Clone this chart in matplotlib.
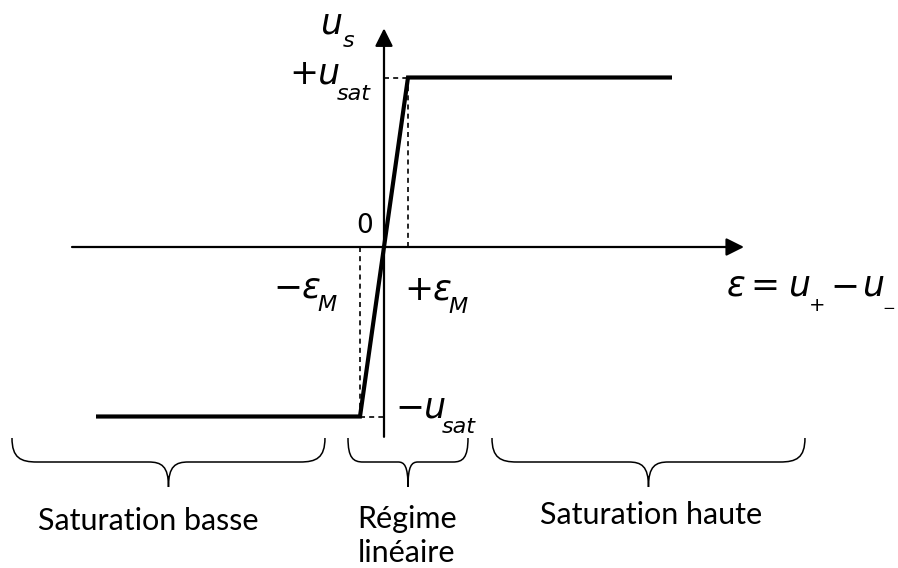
import matplotlib
matplotlib.use("Agg")
import matplotlib.pyplot as plt
from matplotlib.path import Path
from matplotlib.patches import PathPatch

# characteristic of the op-amp (units of eps_M and u_sat)
curve_eps = [-12.0, -1.0, 1.0, 12.0]
curve_us = [-1.0, -1.0, 1.0, 1.0]
eps_M = 1.0
u_sat = 1.0
x_axis = (-13.0, 15.0)
y_axis = (-1.12, 1.29)

# the three regions under the curve
region_names = ["Saturation basse", "Régime\nlinéaire", "Saturation haute"]
region_bounds = [(-15.5, -2.46), (-1.5, 3.5), (4.5, 17.54)]

# pixel layout of the drawing (origin and scale)
X0, Y0 = 384.0, 247.0
SX, SY = 24.0, 169.5


def P(px, py):
    return (px - X0) / SX, (Y0 - py) / SY


def xpix(x):
    return X0 + x * SX


fig = plt.figure(figsize=(8.98, 5.68), dpi=100)
ax = fig.add_axes([0, 0, 1, 1])
ax.set_xlim(P(0, 0)[0], P(898, 0)[0])
ax.set_ylim(P(0, 568)[1], P(0, 0)[1])
ax.axis("off")

# axes with arrows
arr = dict(arrowstyle="-|>,head_length=0.54,head_width=0.27", lw=1.6,
           color="black", mutation_scale=20, shrinkA=0, shrinkB=0)
ax.annotate("", xy=(x_axis[1], 0), xytext=(x_axis[0], 0), arrowprops=arr)
ax.annotate("", xy=(0, y_axis[1]), xytext=(0, y_axis[0]), arrowprops=arr)

# dashed guides
dash = dict(color="black", lw=1.2, ls=(0, (3, 2.5)))
ax.plot([0, eps_M], [u_sat, u_sat], **dash)
ax.plot([eps_M, eps_M], [0, u_sat], **dash)
ax.plot([-eps_M, -eps_M], [0, -u_sat], **dash)
ax.plot([-eps_M, 0], [-u_sat, -u_sat], **dash)

# the characteristic
ax.plot(curve_eps, curve_us, color="black", lw=3.0, solid_joinstyle="miter",
        solid_capstyle="butt")


def put(s, px, py, size, style="italic", ha="center", family="DejaVu Sans"):
    x, y = P(px, py)
    ax.text(x, y, s, fontsize=size, style=style, ha=ha, va="baseline",
            family=family)


big, small = 25, 16
# u_s
put("u", 331, 33, big)
put("s", 349, 47, small)
# +u_sat
put("+u", 315, 83, big)
put("sat", 354, 100, small)
# 0
put("0", 365, 233, 19, "normal")
# -eps_M
put("\u2212\u03b5", 297, 298, big)
put("M", 327, 311, small)
# +eps_M
put("+\u03b5", 428, 300, big)
put("M", 458, 313, small)
# eps = u+ - u-
put("\u03b5", 736, 296, big)
put("=", 765, 296, big, "normal")
put("u", 799, 296, big)
put("+", 817, 311, small - 2, "normal")
put("\u2212", 845, 296, big, "normal")
put("u", 873, 296, big)
put("\u2212", 889, 313, small - 5, "normal")
# -u_sat
put("\u2212u", 421, 417, big)
put("sat", 459, 433, small)


def brace(x0, x1, r, rm, ytop=438, ymid=462, ytip=487):
    xc = (x0 + x1) / 2
    pts = [(x0, ytop),
           (x0, ymid - 4), (x0 + 0.35 * r, ymid), (x0 + r, ymid),
           (xc - rm, ymid),
           (xc - 0.35 * rm, ymid), (xc, ymid + 4), (xc, ytip),
           (xc, ymid + 4), (xc + 0.35 * rm, ymid), (xc + rm, ymid),
           (x1 - r, ymid),
           (x1 - 0.35 * r, ymid), (x1, ymid - 4), (x1, ytop)]
    codes = ([Path.MOVETO] + [Path.CURVE4] * 3 + [Path.LINETO]
             + [Path.CURVE4] * 6 + [Path.LINETO] + [Path.CURVE4] * 3)
    path = Path([P(*p) for p in pts], codes)
    ax.add_patch(PathPatch(path, fill=False, lw=1.1, color="black"))


radii = [(25, 20), (15, 10), (25, 20)]
label_pos = [(148, 530), (407, 528), (651, 524)]
for (a, b), (r, rm), name, (lx, ly) in zip(region_bounds, radii,
                                            region_names, label_pos):
    brace(xpix(a), xpix(b), r, rm)
    for k, line in enumerate(name.split("\n")):
        put(line, lx, ly + 34 * k, 22, "normal", family="Lato")

fig.savefig("out.png", dpi=100, facecolor="white")
